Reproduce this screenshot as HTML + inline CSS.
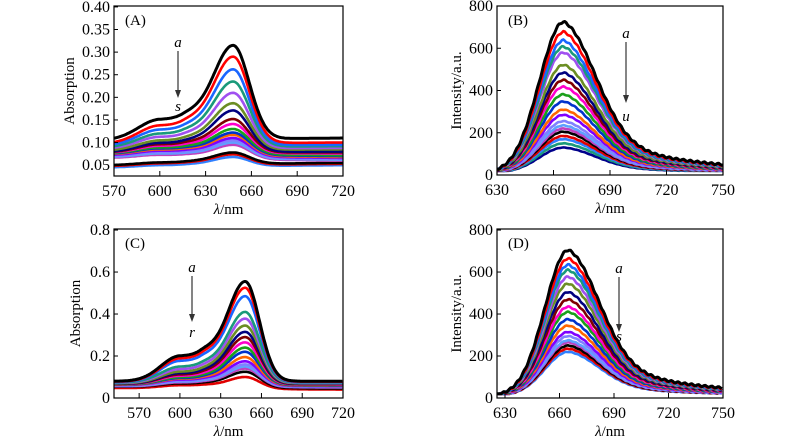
<!DOCTYPE html>
<html><head><meta charset="utf-8">
<style>
html,body{margin:0;padding:0;background:#fff;}
svg, svg text{font-family:"Liberation Serif","DejaVu Serif",serif;}
svg{display:block;}
</style></head>
<body>
<svg id="fig" width="800" height="443" viewBox="0 0 800 443" xmlns="http://www.w3.org/2000/svg" font-family="Liberation Serif, serif"></svg>
<script>
// ---- data ----
const colors = ['#000000','#ff0000','#1a66ff','#1a9a7a','#a050f0','#6b8e23','#00007f','#7f0000','#ff00cc','#1aa01a','#0033cc','#ff6600','#7f00ff','#8080ff','#5fa0ff','#bf40bf','#000000','#e00000','#3080ff','#1a9a7a','#00008b'];
// Panel A
const peaksA = [0.315,0.29,0.262,0.235,0.21,0.187,0.171,0.152,0.141,0.13,0.122,0.117,0.11,0.105,0.1,0.095,0.078,0.074,0.068];
const startA = [0.105,0.097,0.093,0.089,0.086,0.082,0.079,0.078,0.077,0.076,0.075,0.074,0.072,0.07,0.068,0.066,0.05,0.048,0.045];
const endA   = [0.11,0.1,0.095,0.092,0.088,0.085,0.08,0.078,0.076,0.072,0.07,0.068,0.066,0.064,0.062,0.06,0.055,0.053,0.05];
const shoulderA = [0.045,0.04,0.035,0.03,0.026,0.022,0.02,0.018,0.016,0.014,0.013,0.012,0.011,0.01,0.009,0.008,0.005,0.005,0.004];
// Panel B
const peaksB = [715,668,628,598,570,512,475,440,408,372,338,300,275,245,225,210,195,175,160,140,120];
// Panel C
const peaksC = [0.555,0.525,0.485,0.41,0.378,0.345,0.315,0.29,0.265,0.24,0.22,0.195,0.175,0.16,0.15,0.14,0.125,0.1];
const startC = [0.08,0.078,0.076,0.074,0.072,0.07,0.068,0.067,0.066,0.065,0.064,0.063,0.062,0.06,0.058,0.056,0.054,0.048];
const endC   = [0.08,0.078,0.076,0.074,0.072,0.07,0.068,0.066,0.064,0.062,0.06,0.058,0.056,0.054,0.052,0.05,0.045,0.04];
const shoulderC = [0.12,0.11,0.1,0.075,0.065,0.055,0.05,0.045,0.04,0.035,0.032,0.03,0.027,0.024,0.022,0.02,0.018,0.015];
// Panel D
const peaksD = [695,655,625,600,568,535,495,460,425,400,365,335,305,285,265,255,240,225,210];
// ticks
const ticksA = ['0.05','0.10','0.15','0.20','0.25','0.30','0.35','0.40'];
const ticksAx = [570,600,630,660,690,720];
const ticksB = [0,200,400,600,800];
const ticksBx = [630,660,690,720,750];
const ticksC = [0,0.2,0.4,0.6,0.8];
const ticksCx = [570,600,630,660,690,720];
const ticksDx = [630,660,690,720,750];

const NS='http://www.w3.org/2000/svg';
const svg=document.getElementById('fig');
const FF='Liberation Serif, DejaVu Serif, serif';
function el(tag,attrs,parent){const e=document.createElementNS(NS,tag);for(const k in attrs)e.setAttribute(k,attrs[k]);if(tag==='text')e.setAttribute('font-family',FF);(parent||svg).appendChild(e);return e;}
function g(x,m,s){return Math.exp(-0.5*((x-m)/s)**2);}

function panel(cfg){
  const G=el('g',{});
  
  
  const sx=v=>cfg.x0+(v-cfg.xmin)/(cfg.xmax-cfg.xmin)*(cfg.x1-cfg.x0);
  const sy=v=>cfg.y1-(v-cfg.ymin)/(cfg.ymax-cfg.ymin)*(cfg.y1-cfg.y0);
  const clip='clip'+cfg.label;
  const cp=el('clipPath',{id:clip},G);
  el('rect',{x:cfg.x0,y:cfg.y0,width:cfg.x1-cfg.x0,height:cfg.y1-cfg.y0},cp);
  const cg=el('g',{'clip-path':'url(#'+clip+')'},G);
  const n=cfg.n;
  for(let i=n-1;i>=0;i--){
    let d='';
    for(let L=cfg.xmin;L<=cfg.xmax;L+=0.75){
      const v=cfg.f(i,L);
      d+=(d?'L':'M')+sx(L).toFixed(1)+','+sy(v).toFixed(1);
    }
    const p=el('path',{d:d,fill:'none',stroke:colors[i%colors.length],'stroke-width':(i==0?3:2.6),'stroke-linejoin':'round'},cg);
    
    
  }
  const fr=el('rect',{x:cfg.x0,y:cfg.y0,width:cfg.x1-cfg.x0,height:cfg.y1-cfg.y0,fill:'none',stroke:'#000','stroke-width':1.2},G);
  
  
  cfg.yt.forEach(t=>{
    const y=sy(+t);
    el('line',{x1:cfg.x0,x2:cfg.x0+4,y1:y,y2:y,stroke:'#000','stroke-width':1},G);
    const tx=el('text',{x:cfg.x0-4,y:y+5,'text-anchor':'end','font-size':16},G);
    tx.textContent=t;
    
    
  });
  cfg.xt.forEach(t=>{
    const x=sx(t);
    el('line',{x1:x,x2:x,y1:cfg.y1,y2:cfg.y1-5,stroke:'#000','stroke-width':1},G);
    const tx=el('text',{x:x,y:cfg.y1+20,'text-anchor':'middle','font-size':16},G);
    tx.textContent=t;
    
    
  });
  const yl=el('text',{x:0,y:0,'text-anchor':'middle','font-size':15,transform:'translate('+cfg.ylx+','+((cfg.y0+cfg.y1)/2)+') rotate(-90)'},G);
  yl.textContent=cfg.ylabel;
  
  
  const xl=el('text',{x:(cfg.x0+cfg.x1)/2,y:cfg.y1+38,'text-anchor':'middle','font-size':15},G);
  xl.innerHTML='<tspan font-style="italic">λ</tspan>/nm';
  
  
  const pl=el('text',{x:cfg.x0+11,y:cfg.y0+19,'font-size':15},G);
  pl.textContent='('+cfg.label+')';
  
  
  const a=cfg.arrow;
  const ta=el('text',{x:a[0],y:a[1],'text-anchor':'middle','font-size':15,'font-style':'italic'},G);
  ta.textContent='a';
  
  
  el('line',{x1:a[0],x2:a[0],y1:a[1]+4,y2:a[2]-6,stroke:'#333','stroke-width':1.2},G);
  el('path',{d:`M${a[0]-3},${a[2]-8}L${a[0]+3},${a[2]-8}L${a[0]},${a[2]}Z`,fill:'#333'},G);
  const tb=el('text',{x:a[0],y:a[3],'text-anchor':'middle','font-size':15,'font-style':'italic'},G);
  tb.textContent=cfg.endLetter;
  
  
}

function absorb(pk,st,en,sh,i,L,xmin,xmax){
  const base=st[i]+(en[i]-st[i])*(L-xmin)/(xmax-xmin);
  const s=L<648?14:10.5;
  const shoulder=sh[i]*(L<600?g(L,600,14):(L<615?1:g(L,615,12)));
  return base+shoulder*(1-g(L,648,11))+(pk[i]-base)*g(L,648,s);
}
function emis(pk,i,L,c){
  let v;
  if(L<c) v=pk[i]*g(L,c,13);
  else v=pk[i]*(0.7*g(L,c,17)+0.3*Math.exp(-(L-c)/50));
  v+=pk[i]*0.006*Math.sin(L*1.7+i);
  return Math.max(v,10)+10;
}

panel({name:'panel-a-absorption',label:'A',x0:114,x1:343,y0:6,y1:176,xmin:570,xmax:720,ymin:0.026,ymax:0.402,
  yt:ticksA,xt:ticksAx,ylabel:'Absorption',ylx:74,arrow:[178,47,98,111],endLetter:'s',n:peaksA.length,
  f:(i,L)=>absorb(peaksA,startA,endA,shoulderA,i,L,570,720)});
panel({name:'panel-b-fluorescence',label:'B',x0:497,x1:723,y0:6,y1:175,xmin:630,xmax:750,ymin:0,ymax:800,
  yt:ticksB.map(String),xt:ticksBx,ylabel:'Intensity/a.u.',ylx:461,arrow:[626,38,103,121],endLetter:'u',n:peaksB.length,
  f:(i,L)=>emis(peaksB,i,L,665.5)});
panel({name:'panel-c-absorption',label:'C',x0:114,x1:343,y0:229,y1:398,xmin:551.5,xmax:720,ymin:0,ymax:0.805,
  yt:ticksC.map(String),xt:ticksCx,ylabel:'Absorption',ylx:80,arrow:[192,272,322,337],endLetter:'r',n:peaksC.length,
  f:(i,L)=>absorb(peaksC,startC,endC,shoulderC,i,L,551.5,720)});
panel({name:'panel-d-fluorescence',label:'D',x0:497,x1:723,y0:229,y1:398,xmin:625.6,xmax:750,ymin:0,ymax:805,
  yt:ticksB.map(String),xt:ticksDx,ylabel:'Intensity/a.u.',ylx:461,arrow:[619,273,332,341],endLetter:'s',n:peaksD.length,
  f:(i,L)=>emis(peaksD,i,L,665)});
</script>
</body></html>
